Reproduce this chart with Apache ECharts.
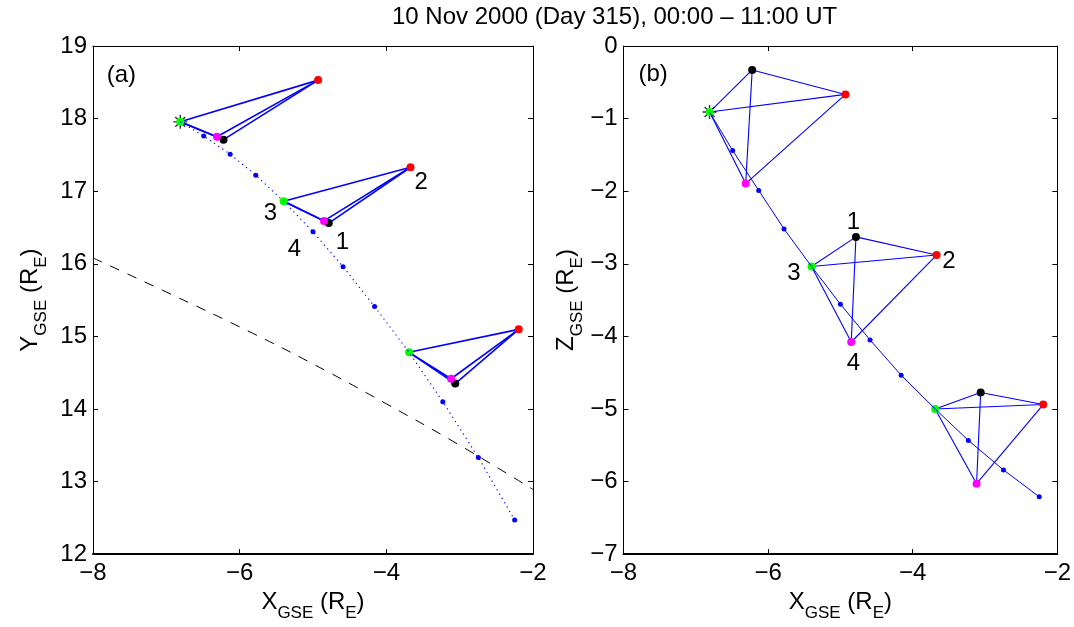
<!DOCTYPE html>
<html><head><meta charset="utf-8">
<script src="https://cdn.jsdelivr.net/npm/echarts@6.0.0/dist/echarts.min.js"></script>
<style>html,body{margin:0;padding:0;background:#fff}#c{width:1074px;height:627px}</style>
</head><body><div id="c"></div>
<script>
// hourly positions of the reference spacecraft (00:00 ... 11:00 UT)
const trajX = [-6.81, -6.49, -6.13, -5.78, -5.40, -5.00, -4.59, -4.16, -3.69, -3.23, -2.745, -2.25];
const trajY = [17.955, 17.76, 17.51, 17.22, 16.86, 16.44, 15.96, 15.41, 14.78, 14.10, 13.33, 12.47];
const trajZ = [-0.91, -1.44, -1.99, -2.52, -3.037, -3.557, -4.05, -4.535, -5.00, -5.434, -5.84, -6.21];
// spacecraft 1..4 at three epochs
const sc1X = [-6.22, -4.785, -3.06]; const sc1Y = [17.71, 16.56, 14.35]; const sc1Z = [-0.33, -2.63, -4.773];
const sc2X = [-4.93, -3.67, -2.195]; const sc2Y = [18.53, 17.33, 15.096]; const sc2Z = [-0.667, -2.88, -4.94];
const sc3X = [-6.81, -5.40, -3.69]; const sc3Y = [17.955, 16.86, 14.78]; const sc3Z = [-0.91, -3.037, -5.00];
const sc4X = [-6.31, -4.85, -3.117]; const sc4Y = [17.75, 16.59, 14.416]; const sc4Z = [-1.896, -4.078, -6.03];
// model boundary (dashed)
const mpX = [-8, -7, -6, -5, -4, -3, -2];
const mpY = [16.08, 15.61, 15.13, 14.62, 14.07, 13.50, 12.89];
// spacecraft number labels
const labText = ['1', '2', '3', '4'];
const labAX = [-4.60, -3.525, -5.58, -5.254]; const labAY = [16.29, 17.115, 16.695, 16.20];
const labBX = [-4.82, -3.50, -5.643, -4.82]; const labBZ = [-2.434, -2.971, -3.129, -4.371];
const xMin = -8, xMax = -2, xInt = 2;
const yAMin = 12, yAMax = 19, yBMin = -7, yBMax = 0, yInt = 1;

const FONT = 'Liberation Sans, Arial, Helvetica, sans-serif';
const minus = v => String(v).replace('-', '\u2212');
const edgesIdx = [[0,1],[0,2],[0,3],[1,2],[1,3],[2,3]];
const scX = [sc1X, sc2X, sc3X, sc4X];
const scA = [sc1Y, sc2Y, sc3Y, sc4Y];
const scB = [sc1Z, sc2Z, sc3Z, sc4Z];
function edges(V) {
  const out = [];
  for (let t = 0; t < 3; t++) for (const [i, j] of edgesIdx)
    out.push({coords: [[scX[i][t], V[i][t]], [scX[j][t], V[j][t]]]});
  return out;
}
const zip = (a, b) => a.map((v, i) => [v, b[i]]);
const starPath = 'path://M0,5.4H12V6.6H0Z M5.4,0H6.6V12H5.4Z M2.18,1.34L10.66,9.82L9.82,10.66L1.34,2.18Z M10.66,2.18L2.18,10.66L1.34,9.82L9.82,1.34Z';

const richName = {
  m: {fontSize: 24, color: '#000', fontFamily: FONT, verticalAlign: 'top', lineHeight: 28},
  s: {fontSize: 17, color: '#000', fontFamily: FONT, verticalAlign: 'top', padding: [15, 0, 0, 0], lineHeight: 19}
};
function xAx(grid, pos, labels) {
  return {type: 'value', gridIndex: grid, position: pos, min: xMin, max: xMax, interval: xInt,
    axisLine: {show: true, onZero: false, lineStyle: {color: '#000', width: pos === 'bottom' ? 2 : 1}},
    axisTick: {show: true, inside: true, length: 5, lineStyle: {color: '#000'}},
    axisLabel: {show: labels, formatter: minus, fontSize: 24, color: '#000', fontFamily: FONT, margin: 7},
    splitLine: {show: false},
    name: labels ? '{m|X}{s|GSE}{m| (R}{s|E}{m|)}' : '', nameLocation: 'middle', nameGap: 32,
    nameTextStyle: {rich: richName}
  };
}
function yAx(grid, pos, labels, mn, mx, nm, gap) {
  return {type: 'value', gridIndex: grid, position: pos, min: mn, max: mx, interval: yInt,
    axisLine: {show: true, onZero: false, lineStyle: {color: '#000', width: 1}},
    axisTick: {show: true, inside: true, length: 5, lineStyle: {color: '#000'}},
    axisLabel: {show: labels, formatter: minus, fontSize: 24, color: '#000', fontFamily: FONT, margin: 6},
    splitLine: {show: false},
    name: labels ? '{m|' + nm + '}{s|GSE}{m| (R}{s|E}{m|)}' : '', nameLocation: 'middle', nameGap: gap, nameRotate: 90,
    nameTextStyle: {rich: richName}
  };
}
function dots(xi, yi, X, Y, color, size) {
  return {type: 'scatter', xAxisIndex: xi, yAxisIndex: yi, data: zip(X, Y), symbol: 'circle', symbolSize: size,
    itemStyle: {color: color, opacity: 1}, silent: true};
}
function labels(xi, yi, X, Y, texts) {
  return {type: 'scatter', xAxisIndex: xi, yAxisIndex: yi, symbol: 'circle', symbolSize: 0,
    itemStyle: {color: '#000', opacity: 1},
    data: X.map((v, i) => ({value: [v, Y[i]], name: texts[i]})), silent: true,
    label: {show: true, position: [0, 0], align: 'center', verticalAlign: 'middle', formatter: '{b}',
      fontSize: 24, color: '#000', opacity: 1, textBorderWidth: 0, fontFamily: FONT}};
}
function panel(xi, yi, V, traj, lineW, trajStyle) {
  const s = [];
  s.push({type: 'line', xAxisIndex: xi, yAxisIndex: yi, data: zip(trajX, traj), symbol: 'none',
    lineStyle: trajStyle, silent: true});
  s.push(dots(xi, yi, trajX, traj, '#0000ff', 5));
  s.push({type: 'lines', coordinateSystem: 'cartesian2d', xAxisIndex: xi, yAxisIndex: yi, data: edges(V),
    lineStyle: {color: '#0000ff', width: lineW, opacity: 1}, silent: true});
  s.push({type: 'scatter', xAxisIndex: xi, yAxisIndex: yi, data: [[trajX[0], traj[0]]], symbol: starPath,
    symbolSize: 14, itemStyle: {color: '#000'}, silent: true});
  s.push(dots(xi, yi, sc1X, V[0], '#000000', 8));
  s.push(dots(xi, yi, sc2X, V[1], '#ff0000', 8));
  s.push(dots(xi, yi, sc3X, V[2], '#00ff00', 8));
  s.push(dots(xi, yi, sc4X, V[3], '#ff00ff', 8));
  return s;
}
const series = [
  {type: 'line', xAxisIndex: 0, yAxisIndex: 0, data: zip(mpX, mpY), symbol: 'none', smooth: true,
    lineStyle: {color: '#000', width: 1, type: [10, 9]}, silent: true},
  ...panel(0, 0, scA, trajY, 1.6, {color: '#0000ff', width: 1.2, type: [1.2, 3.8]}),
  labels(0, 0, labAX, labAY, labText),
  labels(0, 0, [-7.614], [18.6], ['(a)']),
  ...panel(2, 2, scB, trajZ, 1.1, {color: '#0000ff', width: 1}),
  labels(2, 2, labBX, labBZ, labText),
  labels(2, 2, [-7.59], [-0.389], ['(b)'])
];
const chart = echarts.init(document.getElementById('c'), null, {renderer: 'canvas'});
chart.setOption({
  animation: false,
  backgroundColor: '#fff',
  grid: [
    {left: 93, top: 46, width: 440, height: 511},
    {left: 623.5, top: 46, width: 439.5, height: 511}
  ],
  xAxis: [xAx(0, 'bottom', true), xAx(0, 'top', false), xAx(1, 'bottom', true), xAx(1, 'top', false)],
  yAxis: [yAx(0, 'left', true, yAMin, yAMax, 'Y', 47), yAx(0, 'right', false, yAMin, yAMax, '', 0),
          yAx(1, 'left', true, yBMin, yBMax, 'Z', 26), yAx(1, 'right', false, yBMin, yBMax, '', 0)],
  graphic: [{type: 'text', left: 392, top: 5,
    style: {text: '10 Nov 2000 (Day 315), 00:00 \u2013 11:00 UT', fontSize: 24, fontFamily: FONT, fill: '#000'}}],
  series: series
});
</script></body></html>
